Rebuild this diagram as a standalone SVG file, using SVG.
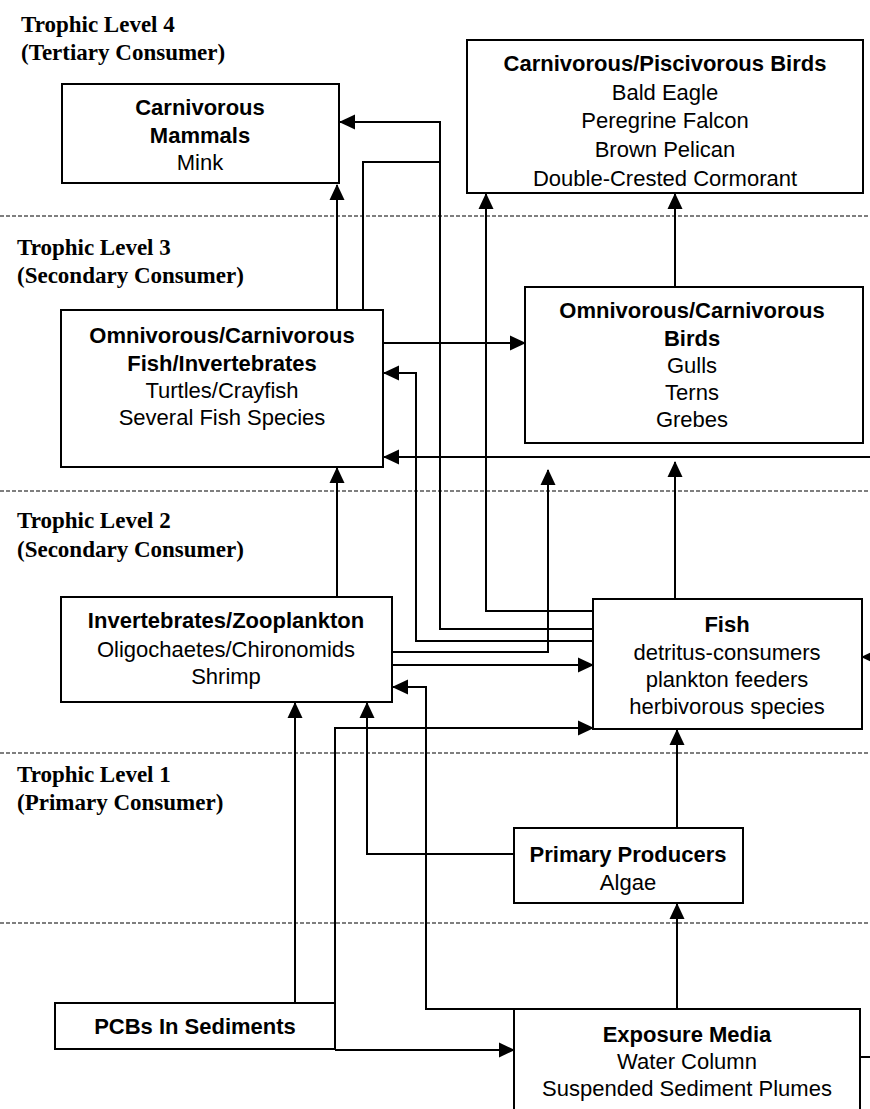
<svg xmlns="http://www.w3.org/2000/svg" width="870" height="1109" viewBox="0 0 870 1109">
<style>
.box{fill:#fff;stroke:#000;stroke-width:2}
.sep{stroke:#555;stroke-width:1.3;stroke-dasharray:4,2;fill:none}
.c{fill:none;stroke:#000;stroke-width:2}
.t{font-family:"Liberation Sans",Arial,sans-serif;font-size:22px;text-anchor:middle;fill:#000}
.b{font-weight:bold}
.lv{font-family:"Liberation Serif","Times New Roman",serif;font-size:23px;font-weight:bold;fill:#000}
</style>
<defs>
<marker id="ah" markerUnits="userSpaceOnUse" markerWidth="16" markerHeight="16" viewBox="0 0 16 16" refX="15" refY="8" orient="auto">
<path d="M0,0.5 L16,8 L0,15.5 z" fill="#000"/>
</marker>
</defs>
<rect width="870" height="1109" fill="#fff"/>
<g id="separators">
<line class="sep" x1="0" y1="216" x2="870" y2="216"/>
<line class="sep" x1="0" y1="491" x2="870" y2="491"/>
<line class="sep" x1="0" y1="753" x2="870" y2="753"/>
<line class="sep" x1="0" y1="923" x2="870" y2="923"/>
</g>
<g id="levels">
<text class="lv" x="21" y="32">Trophic Level 4</text>
<text class="lv" x="21" y="60">(Tertiary Consumer)</text>
<text class="lv" x="17" y="255">Trophic Level 3</text>
<text class="lv" x="17" y="283">(Secondary Consumer)</text>
<text class="lv" x="17" y="528">Trophic Level 2</text>
<text class="lv" x="17" y="557">(Secondary Consumer)</text>
<text class="lv" x="17" y="782">Trophic Level 1</text>
<text class="lv" x="17" y="810">(Primary Consumer)</text>
</g>
<g id="connectors">
<path class="c" d="M337,310 V185" marker-end="url(#ah)"/>
<path class="c" d="M363,310 V162 H440"/>
<path class="c" d="M593,629 H440 V122 H340" marker-end="url(#ah)"/>
<path class="c" d="M593,611 H486 V194" marker-end="url(#ah)"/>
<path class="c" d="M593,641 H416 V373 H384" marker-end="url(#ah)"/>
<path class="c" d="M383,343 H525" marker-end="url(#ah)"/>
<path class="c" d="M675,287 V194" marker-end="url(#ah)"/>
<path class="c" d="M870,457 H384" marker-end="url(#ah)"/>
<path class="c" d="M337,597 V468" marker-end="url(#ah)"/>
<path class="c" d="M392,652 H548 V470" marker-end="url(#ah)"/>
<path class="c" d="M675,599 V462" marker-end="url(#ah)"/>
<path class="c" d="M392,665 H593" marker-end="url(#ah)"/>
<path class="c" d="M882,657 H862" marker-end="url(#ah)"/>
<path class="c" d="M335,1049 V728 H593" marker-end="url(#ah)"/>
<path class="c" d="M335,1050 H514" marker-end="url(#ah)"/>
<path class="c" d="M295,1003 V703" marker-end="url(#ah)"/>
<path class="c" d="M514,854 H367 V703" marker-end="url(#ah)"/>
<path class="c" d="M514,1009 H426 V687 H393" marker-end="url(#ah)"/>
<path class="c" d="M677,1009 V904" marker-end="url(#ah)"/>
<path class="c" d="M677,828 V730" marker-end="url(#ah)"/>
<path class="c" d="M860,1057 H870"/>
</g>
<g id="carnivorous-mammals">
<rect class="box" x="62" y="84" width="277" height="99"/>
<text class="t b" x="200" y="115">Carnivorous</text>
<text class="t b" x="200" y="143">Mammals</text>
<text class="t" x="200" y="170">Mink</text>
</g>
<g id="carnivorous-piscivorous-birds">
<rect class="box" x="467" y="40" width="396" height="153"/>
<text class="t b" x="665" y="71">Carnivorous/Piscivorous Birds</text>
<text class="t" x="665" y="100">Bald Eagle</text>
<text class="t" x="665" y="128">Peregrine Falcon</text>
<text class="t" x="665" y="157">Brown Pelican</text>
<text class="t" x="665" y="186">Double-Crested Cormorant</text>
</g>
<g id="omnivorous-fish-invertebrates">
<rect class="box" x="61" y="310" width="322" height="157"/>
<text class="t b" x="222" y="343">Omnivorous/Carnivorous</text>
<text class="t b" x="222" y="371">Fish/Invertebrates</text>
<text class="t" x="222" y="398">Turtles/Crayfish</text>
<text class="t" x="222" y="425">Several Fish Species</text>
</g>
<g id="omnivorous-birds">
<rect class="box" x="525" y="287" width="338" height="156"/>
<text class="t b" x="692" y="318">Omnivorous/Carnivorous</text>
<text class="t b" x="692" y="346">Birds</text>
<text class="t" x="692" y="373">Gulls</text>
<text class="t" x="692" y="400">Terns</text>
<text class="t" x="692" y="427">Grebes</text>
</g>
<g id="invertebrates-zooplankton">
<rect class="box" x="61" y="597" width="331" height="105"/>
<text class="t b" x="226" y="628">Invertebrates/Zooplankton</text>
<text class="t" x="226" y="657">Oligochaetes/Chironomids</text>
<text class="t" x="226" y="684">Shrimp</text>
</g>
<g id="fish">
<rect class="box" x="593" y="599" width="269" height="130"/>
<text class="t b" x="727" y="632">Fish</text>
<text class="t" x="727" y="660">detritus-consumers</text>
<text class="t" x="727" y="687">plankton feeders</text>
<text class="t" x="727" y="714">herbivorous species</text>
</g>
<g id="primary-producers">
<rect class="box" x="514" y="828" width="229" height="75"/>
<text class="t b" x="628" y="862">Primary Producers</text>
<text class="t" x="628" y="890">Algae</text>
</g>
<g id="pcbs-in-sediments">
<rect class="box" x="55" y="1003" width="280" height="46"/>
<text class="t b" x="195" y="1034">PCBs In Sediments</text>
</g>
<g id="exposure-media">
<rect class="box" x="514" y="1009" width="346" height="111"/>
<text class="t b" x="687" y="1042">Exposure Media</text>
<text class="t" x="687" y="1069">Water Column</text>
<text class="t" x="687" y="1096">Suspended Sediment Plumes</text>
</g>
</svg>
